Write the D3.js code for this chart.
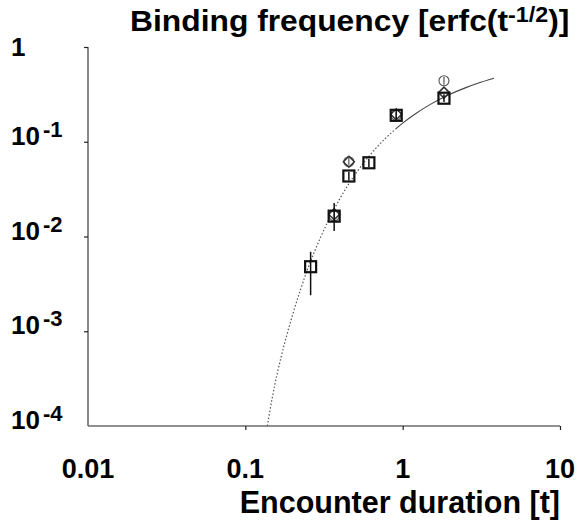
<!DOCTYPE html>
<html>
<head>
<meta charset="utf-8">
<script src="https://cdn.jsdelivr.net/npm/d3@7/dist/d3.min.js"></script>
<style>
  html, body { margin: 0; padding: 0; background: #fff; }
  svg { display: block; font-family: "Liberation Sans", Arial, sans-serif; font-weight: bold; }
</style>
</head>
<body>
<svg id="chart" width="586" height="525"></svg>
<script>
// ---- data ----
const xTicks = [0.01, 0.1, 1, 10];
const xTickLabels = ["0.01", "0.1", "1", "10"];
const yTicks = [1, 0.1, 0.01, 0.001, 0.0001];
const yTickExponents = [null, "-1", "-2", "-3", "-4"];

// squares (with vertical error bars)
const sqT   = [0.26, 0.367, 0.455, 0.61, 0.91, 1.83];
const sqY   = [0.0048, 0.0164, 0.0435, 0.060, 0.19, 0.288];
const sqLo  = [0.0024, 0.0114, 0.039, 0.054, 0.170, 0.262];
const sqHi  = [0.0069, 0.0226, 0.048, 0.066, 0.212, 0.318];

// diamonds
const dmT = [0.367, 0.455, 0.91, 1.83];
const dmY = [0.0172, 0.0616, 0.195, 0.33];

// circles (with small vertical bars)
const ciT  = [0.367, 0.455, 0.91, 1.83];
const ciY  = [0.0165, 0.0616, 0.19, 0.44];
const ciLo = [0.0150, 0.056, 0.175, 0.40];
const ciHi = [0.0182, 0.068, 0.206, 0.485];

// theoretical curve erfc(t^-1/2)
const curveT = [0.138, 0.15, 0.17, 0.2, 0.25, 0.3, 0.35, 0.4, 0.5, 0.6, 0.7, 0.8, 0.9, 1.0, 1.2, 1.5, 2.0, 2.5, 3.0, 3.8];
const curveY = [0.0001, 0.00022, 0.00056, 0.0015, 0.00462, 0.0097, 0.0167, 0.0253, 0.0455, 0.0678, 0.091, 0.1137, 0.136, 0.1573, 0.1965, 0.248, 0.3171, 0.3704, 0.4136, 0.4677];
const curveSplit = 0.9; // dotted below, solid above

// ---- layout ----
const svg = d3.select("#chart");
const mLeft = 88, mRight = 560, mTop = 47, mBottom = 426;
const x = d3.scaleLog().domain([0.01, 10]).range([mLeft, mRight]);
const y = d3.scaleLog().domain([0.0001, 1]).range([mBottom, mTop]);

const axisColor = "#6b6b6b";

// axes lines
svg.append("line").attr("x1", mLeft).attr("x2", mLeft).attr("y1", mTop).attr("y2", mBottom)
  .attr("stroke", axisColor).attr("stroke-width", 1.6);
svg.append("line").attr("x1", mLeft).attr("x2", mRight).attr("y1", mBottom).attr("y2", mBottom)
  .attr("stroke", axisColor).attr("stroke-width", 1.6);

// x axis ticks + labels
const xAxis = d3.axisBottom(x).tickValues(xTicks.slice(1)).tickSize(4).tickFormat("");
const gx = svg.append("g").attr("transform", `translate(0,${mBottom})`).call(xAxis);
gx.select(".domain").remove();
gx.selectAll(".tick line").attr("stroke", "#222").attr("stroke-width", 1.2);

svg.append("g").selectAll("text").data(xTicks).join("text")
  .attr("x", d => x(d)).attr("y", 478)
  .attr("text-anchor", "middle").attr("font-size", 27).attr("fill", "#000")
  .text((d, i) => xTickLabels[i]);

// y axis ticks
const yAxis = d3.axisLeft(y).tickValues(yTicks.slice(0, 4)).tickSize(4).tickFormat("");
const gy = svg.append("g").attr("transform", `translate(${mLeft},0)`).call(yAxis);
gy.select(".domain").remove();
gy.selectAll(".tick line").attr("stroke", "#222").attr("stroke-width", 1.2);

// y labels with superscripts
const yl = svg.append("g").selectAll("text").data(yTicks).join("text")
  .attr("x", 11).attr("y", (d, i) => y(d) + (i === 0 ? 9 : 3))
  .attr("font-size", 26).attr("fill", "#000");
yl.each(function(d, i) {
  const t = d3.select(this);
  if (yTickExponents[i] === null) { t.text("1"); return; }
  t.append("tspan").text("10");
  t.append("tspan").attr("dx", 3).attr("dy", -8).attr("font-size", 22).text(yTickExponents[i]);
});

// titles
const title = svg.append("text").attr("transform", "translate(130,31) scale(1.06,1)")
  .attr("font-size", 30).attr("fill", "#000");
title.append("tspan").text("Binding frequency [erfc(t");
title.append("tspan").attr("dy", -9).attr("font-size", 22).text("-1/2");
title.append("tspan").attr("dy", 9).text(")]");

svg.append("text").attr("x", 560).attr("y", 513).attr("text-anchor", "end")
  .attr("font-size", 30.5).attr("fill", "#000").text("Encounter duration [t]");

// curve
const curvePts = curveT.map((t, i) => [t, curveY[i]]);
const line = d3.line().x(d => x(d[0])).y(d => y(d[1])).curve(d3.curveMonotoneX);
svg.append("path").datum(curvePts.filter(d => d[0] <= curveSplit))
  .attr("d", line).attr("fill", "none").attr("stroke", "#555").attr("stroke-width", 1.2)
  .attr("stroke-dasharray", "1.5,2");
svg.append("path").datum(curvePts.filter(d => d[0] >= curveSplit))
  .attr("d", line).attr("fill", "none").attr("stroke", "#444").attr("stroke-width", 1.1);

// circles
const gc = svg.append("g");
ciT.forEach((t, i) => {
  gc.append("circle").attr("cx", x(t)).attr("cy", y(ciY[i])).attr("r", 5)
    .attr("fill", "#fff").attr("stroke", "#555").attr("stroke-width", 1.1);
  gc.append("line").attr("x1", x(t)).attr("x2", x(t)).attr("y1", y(ciLo[i])).attr("y2", y(ciHi[i]))
    .attr("stroke", "#333").attr("stroke-width", 1);
});

// diamonds
const gd = svg.append("g");
dmT.forEach((t, i) => {
  const cx = x(t), cy = y(dmY[i]), s = 5.5;
  gd.append("path").attr("d", `M${cx},${cy - s}L${cx + s},${cy}L${cx},${cy + s}L${cx - s},${cy}Z`)
    .attr("fill", "none").attr("stroke", "#333").attr("stroke-width", 1.5);
});

// squares with error bars
const gs = svg.append("g");
sqT.forEach((t, i) => {
  const cx = x(t), cy = y(sqY[i]), h = 5.5;
  gs.append("rect").attr("x", cx - h).attr("y", cy - h).attr("width", 2 * h).attr("height", 2 * h)
    .attr("fill", "none").attr("stroke", "#111").attr("stroke-width", 2.2);
  gs.append("line").attr("x1", cx).attr("x2", cx).attr("y1", y(sqLo[i])).attr("y2", y(sqHi[i]))
    .attr("stroke", "#111").attr("stroke-width", 1.5);
});
</script>
</body>
</html>
